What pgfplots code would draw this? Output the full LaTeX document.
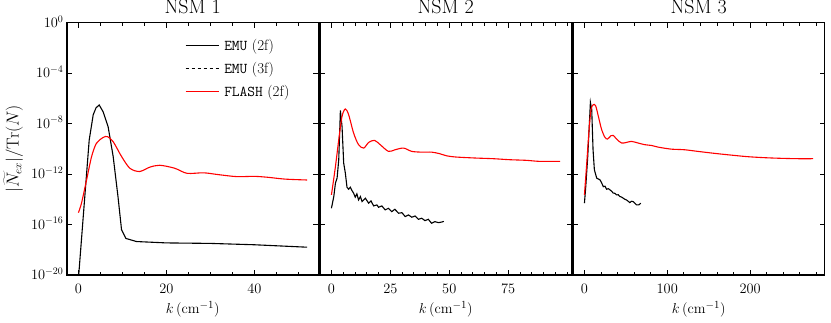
\documentclass[border=0pt]{standalone}
\usepackage{pgfplots}
\pgfplotsset{compat=1.18}
\pgfplotsset{
  legend image code/.code={\draw[#1] (0pt,0pt) -- (33pt,0pt);},
  every axis/.append style={
    scale only axis, width=251.5pt, height=252.3pt,
    ymin=1e-20, ymax=1,
    ytick={1e-20,1e-16,1e-12,1e-8,1e-4,1},
    tick align=inside,
    major tick length=5pt, minor tick length=3pt,
    tick style={black, line width=0.9pt},
    axis line style={line width=1.3pt},
    tick label style={font=\fontsize{14}{16}\selectfont},
    xticklabel style={anchor=base, yshift=-18.3pt},
    yticklabel style={anchor=base east, yshift=-4.6pt},
    xlabel style={font=\fontsize{15.5}{18}\selectfont, at={(axis description cs:0.5,-0.152)}, anchor=base},
    title style={font=\fontsize{20}{22}\selectfont, at={(axis description cs:0.5,1.0135)}, anchor=base, inner sep=0pt},
  },
}
\tikzset{
  emu/.style={black, line width=1.1pt},
  flash/.style={red, line width=1.1pt},
}
\begin{document}
\begin{tikzpicture}
% ---------------- NSM 1 ----------------
\begin{semilogyaxis}[at={(67pt,47pt)}, anchor=south west,
  title={NSM 1},
  xlabel={$k\,(\mathrm{cm}^{-1})$},
  xmin=-2.6, xmax=54.6,
  xtick={0,20,40}, minor xtick={5,10,15,25,30,35,45,50},
  ylabel={$|\widetilde{N}_{ex}|/\mathrm{Tr}(N)$},
  ylabel style={font=\fontsize{16}{18}\selectfont, at={(axis description cs:-0.192,0.5)}, anchor=base},
  legend cell align=left,
  legend style={draw=none, fill=none, at={(axis description cs:0.469,0.954)}, anchor=north west,
    row sep=0pt, inner sep=0pt,
    nodes={font=\fontsize{15}{17}\selectfont, inner sep=5pt}},
]
\addplot[emu] coordinates {
(0,5.0e-21) (1.2,1.26e-15) (2.45,5.0e-10) (3.36,5.0e-8) (4.0,1.78e-7) (4.72,3.0e-7)
(5.6,8.9e-8) (6.75,5.75e-9) (7.9,2.5e-11) (9.0,1.6e-14) (9.8,4.0e-17) (10.8,7.9e-18)
(13.2,4.5e-18) (20,3.5e-18) (30,3.2e-18) (40,2.5e-18) (52,1.6e-18)
};
\addlegendentry{\texttt{EMU} (2f)}
\addlegendimage{black, dashed, line width=1.1pt}
\addlegendentry{\texttt{EMU} (3f)}
\addplot[flash, smooth] coordinates {
(0,8.7e-16) (0.7,5.0e-15) (1.86,3.5e-13) (3.0,2.5e-11) (4.1,2.75e-10) (5.6,7.9e-10)
(6.6,9.3e-10) (7.9,3.7e-10) (9.8,2.5e-11) (11.7,2.9e-12) (13.9,1.6e-12) (16.2,3.5e-12)
(18.5,5.0e-12) (21.9,2.9e-12) (24.7,1.15e-12) (28.5,1.26e-12) (32,8.9e-13) (36,6.3e-13)
(40,6.6e-13) (43,5.6e-13) (47,4.0e-13) (52,3.4e-13)
};
\addlegendentry{\texttt{FLASH} (2f)}
\end{semilogyaxis}
% ---------------- NSM 2 ----------------
\begin{semilogyaxis}[at={(320pt,47pt)}, anchor=south west,
  title={NSM 2},
  xlabel={$k\,(\mathrm{cm}^{-1})$},
  xmin=-4.85, xmax=101.85,
  xtick={0,25,50,75}, minor xtick={5,10,15,20,30,35,40,45,55,60,65,70,80,85,90,95,100},
  yticklabels={},
]
\addplot[emu] coordinates {
(0,1.95e-15) (1.0,1.66e-14) (1.7,1.9e-13) (2.4,4.8e-13) (3.1,1.35e-11) (3.8,1.12e-7)
(4.5,6.0e-9) (5.2,7.4e-12) (5.9,1.2e-12) (6.6,9.1e-14) (7.3,6.3e-14) (8.0,9.1e-14)
(8.7,5.0e-14) (9.4,3.1e-14) (10.1,1.48e-14) (10.8,2.7e-14) (11.5,8.9e-15) (12.3,1.66e-14)
(13.0,6.6e-15) (14.4,1.23e-14) (15.8,4.9e-15) (16.8,7.4e-15) (17.9,3.0e-15) (19.3,3.6e-15)
(20.0,2.34e-15) (21.4,3.0e-15) (22.8,1.45e-15) (24.2,1.95e-15) (25.6,1.05e-15) (26.9,1.62e-15)
(28.5,7.9e-16) (29.9,8.7e-16) (31.3,4.3e-16) (32.7,5.75e-16) (34.1,3.8e-16) (35.5,4.8e-16)
(36.9,2.6e-16) (38.3,3.16e-16) (39.7,2.04e-16) (41.1,2.6e-16) (42.5,1.26e-16) (43.9,1.7e-16)
(45.4,1.41e-16) (46.8,1.58e-16) (47.7,1.78e-16)
};
\addplot[flash, smooth] coordinates {
(0,2.24e-14) (1.7,3.98e-12) (3.1,5.2e-10) (4.5,3.8e-8) (5.9,1.45e-7) (7.3,5.1e-8)
(9.4,1.8e-9) (11.5,2.14e-10) (13.7,1.15e-10) (15.8,3.24e-10) (18.3,4.7e-10) (20.7,2.14e-10)
(24.2,6.3e-11) (27,8.5e-11) (30.6,1.15e-10) (34.1,6.3e-11) (38.3,5.5e-11) (42.5,5.5e-11)
(46,4.1e-11) (48.9,2.8e-11) (53,2.24e-11) (61.5,1.86e-11) (68.6,1.66e-11) (75.6,1.38e-11)
(82.7,1.23e-11) (88.3,1.02e-11) (97,1.02e-11)
};
\end{semilogyaxis}
% ---------------- NSM 3 ----------------
\begin{semilogyaxis}[at={(573pt,47pt)}, anchor=south west,
  title={NSM 3},
  xlabel={$k\,(\mathrm{cm}^{-1})$},
  xmin=-13.8, xmax=289.8,
  xtick={0,100,200}, minor xtick={20,40,60,80,120,140,160,180,220,240,260,280},
  yticklabels={},
]
\addplot[emu] coordinates {
(0,4.9e-15) (1.6,1.0e-13) (4,2.5e-11) (6,1.12e-8) (7.2,4.9e-7) (8.8,1.29e-7)
(10.4,8.5e-11) (12,2.2e-12) (14.8,4.8e-13) (18.8,3.5e-13) (20.8,2.0e-13) (22.8,1.0e-13)
(24.8,1.1e-13) (26.8,6.3e-14) (28.8,7.0e-14) (30.8,5.6e-14) (32.8,4.4e-14) (34.8,3.1e-14)
(36.8,3.0e-14) (38.8,2.24e-14) (40.8,2.3e-14) (42.8,1.66e-14) (44.8,1.5e-14) (46.8,1.23e-14)
(48.8,1.0e-14) (50.8,8.9e-15) (52.8,7.0e-15) (54.8,5.5e-15) (56.8,7.0e-15) (58.8,6.6e-15)
(60.8,5.0e-15) (62.8,3.6e-15) (65.6,3.6e-15) (68,4.9e-15)
};
\addplot[flash, smooth] coordinates {
(0,2.24e-14) (2.8,7.4e-12) (5.6,3.3e-9) (8,1.29e-7) (10.8,3.24e-7) (13.6,2.5e-7)
(16.8,3.8e-8) (20.8,3.3e-9) (24.8,8.1e-10) (28,6.0e-10) (32,1.1e-9) (34.8,1.17e-9)
(38.8,6.0e-10) (44.8,2.9e-10) (50.8,3.24e-10) (56.8,3.9e-10) (64.8,2.9e-10) (72.8,2.14e-10)
(80.8,1.86e-10) (88.8,1.38e-10) (104.8,9.5e-11) (120.8,8.5e-11) (136.8,6.3e-11) (157,4.4e-11)
(177,3.2e-11) (197,2.4e-11) (217,2.0e-11) (237,1.78e-11) (257,1.66e-11) (276,1.66e-11)
};
\end{semilogyaxis}
\pgfresetboundingbox
\path[use as bounding box] (0pt,0pt) rectangle (831pt,322pt);
\end{tikzpicture}
\end{document}
